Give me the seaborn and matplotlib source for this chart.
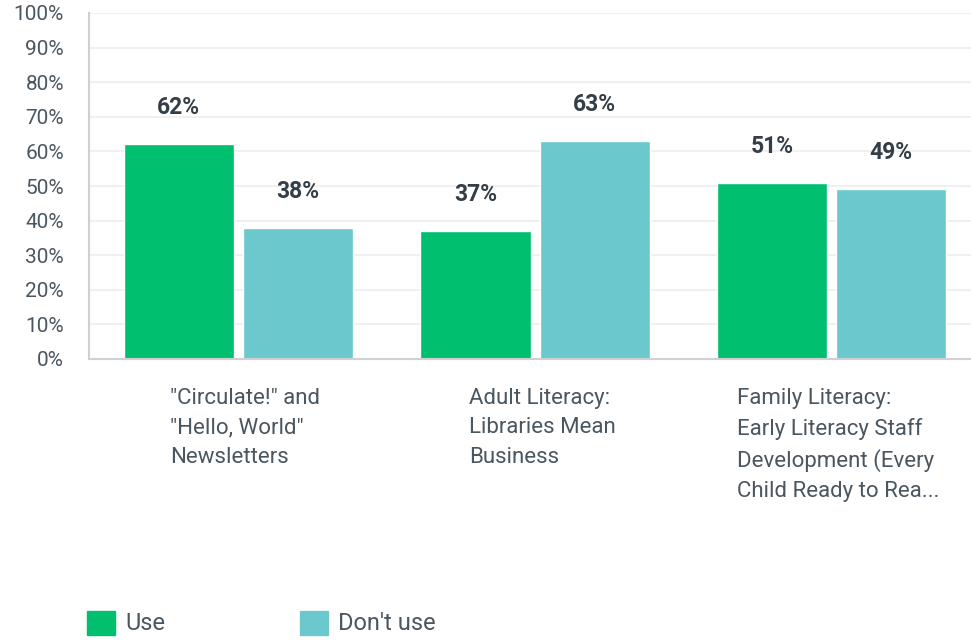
import matplotlib
matplotlib.use("Agg")
import matplotlib.pyplot as plt
import matplotlib.transforms as mtransforms
from matplotlib.patches import Patch
import seaborn as sns
import pandas as pd

programs = [
    '"Circulate!" and\n"Hello, World"\nNewsletters',
    'Adult Literacy:\nLibraries Mean\nBusiness',
    'Family Literacy:\nEarly Literacy Staff\nDevelopment (Every\nChild Ready to Rea...',
]
responses = ["Use", "Don't use"]
use_pct = [62, 37, 51]
dont_use_pct = [38, 63, 49]
colors = ["#00BF6F", "#6BC8CD"]
y_ticks = [0, 10, 20, 30, 40, 50, 60, 70, 80, 90, 100]

df = pd.DataFrame({
    "program": programs * 2,
    "response": [responses[0]] * 3 + [responses[1]] * 3,
    "pct": use_pct + dont_use_pct,
})

sns.set_theme(style="white")
plt.rcParams["font.family"] = ["Roboto", "DejaVu Sans"]

text_color = "#333E48"
tick_color = "#4A5660"

fig = plt.figure(figsize=(9.71, 6.40), dpi=100)
ax = fig.add_axes([89 / 971, 1 - 359 / 640, 882 / 971, 346 / 640])

sns.barplot(
    data=df, x="program", y="pct", hue="response", order=programs,
    hue_order=responses, palette=colors, width=0.803, gap=0.076,
    saturation=1, legend=False, ax=ax,
)

for container, vals in zip(ax.containers, [use_pct, dont_use_pct]):
    ax.bar_label(container, labels=[f"{v}%" for v in vals], padding=18,
                 fontsize=16.5, fontweight="bold", color=text_color)

ax.set_ylim(0, 100)
ax.set_xlim(-0.504, 2.47)
ax.set_yticks(y_ticks)
ax.set_yticklabels([f"{t}%" for t in y_ticks], fontsize=15, color=tick_color)
ax.set_xticks(range(len(programs)))
ax.set_xticklabels(programs, fontsize=16, color=tick_color,
                   multialignment="left", linespacing=1.52, va="top")
ax.tick_params(axis="x", length=0, pad=21)
ax.tick_params(axis="y", length=0, pad=18)
ax.set_xlabel("")
ax.set_ylabel("")

# nudge the category labels slightly right of the group centres
shift = mtransforms.ScaledTranslation(7 / 100, 0, fig.dpi_scale_trans)
for lbl in ax.get_xticklabels():
    lbl.set_transform(lbl.get_transform() + shift)

ax.yaxis.grid(True, color="#EDEDED", linewidth=1.2)
ax.set_axisbelow(True)
for side in ["top", "right"]:
    ax.spines[side].set_visible(False)
ax.spines["left"].set_color("#D0D0D0")
ax.spines["left"].set_linewidth(1.5)
ax.spines["bottom"].set_color("#D0D0D0")
ax.spines["bottom"].set_linewidth(1.5)

handles = [Patch(facecolor=c, edgecolor=c, label=r) for c, r in zip(colors, responses)]
fig.legend(handles=handles, loc="center left", bbox_to_anchor=(87 / 971, 1 - 623 / 640),
           ncol=2, frameon=False, fontsize=17, handlelength=1.19, handleheight=1.19,
           handletextpad=0.42, columnspacing=5.7, borderpad=0, borderaxespad=0,
           labelcolor=tick_color)

fig.savefig("out.png", dpi=100)
